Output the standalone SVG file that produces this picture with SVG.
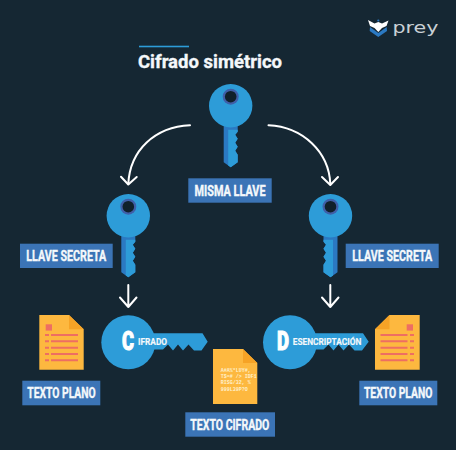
<svg xmlns="http://www.w3.org/2000/svg" width="456" height="450" viewBox="0 0 456 450">
<style>
.lb{fill:#3b74b6}
.t{font-family:Roboto,"Liberation Sans",sans-serif;font-weight:700;fill:#f4f8fb;stroke:#f4f8fb;stroke-width:.35;text-anchor:middle}
.s{font-size:13.800px}
.b{font-size:25.500px;font-weight:900;stroke-width:1;fill:#fff;stroke:#fff}
.m{font-size:9.500px;stroke-width:.15}
.k{fill:#2d9cd8}
.d{fill:#2b79c2}
.r{fill:#3f5fa8}
.h{fill:#10202b}
.y{fill:#fdb83f}
.f{fill:#f6a326}
.l{stroke:#ee6e62;stroke-width:1.900;fill:none}
.p{fill:#ee6e62}
.a{fill:none;stroke:#fff;stroke-width:2;stroke-linecap:round;stroke-linejoin:round}
.c{font-family:"Liberation Mono",monospace;font-size:5px;font-weight:700;fill:#fff0cc}
</style>
<defs>
<g id="key">
<path class="d" d="M-7 20H7V26L4.500 29 7 33 4.500 37 7 41 4.500 45 7 49V56.500L0 61.500-7 56.500Z"/>
<path class="k" d="M-2.500 24H7V26L4.500 29 7 33 4.500 37 7 41 4.500 45 7 49V56.500L0 61.500-2.500 59.700Z"/>
<circle class="k" cx="0" cy="0" r="21.700"/>
<circle class="r" cx="0" cy="-9" r="8"/>
<circle class="h" cx="0" cy="-9" r="5.800"/>
</g>
</defs>
<rect width="456" height="450" fill="#152733"/>
<g id="logo">
<path fill="#2b79c2" d="M370 27 378.300 33 386.700 27 387 31 378.300 37 369.700 31Z"/>
<path fill="#fff" d="M368 20 374.500 23.500 378.300 22 382 23.500 388.500 20.500 386.500 26 382 28 378.300 32 374.500 28 370 26Z"/>
<circle cx="378.300" cy="20.500" r="1.100" fill="#2b79c2"/>
<text x="392.500" y="33.300" font-family="'DejaVu Sans',sans-serif" font-size="15" fill="#c9d0d5" textLength="46" lengthAdjust="spacingAndGlyphs">prey</text>
</g>
<g id="title">
<rect x="139" y="45.700" width="50" height="1.600" fill="#2d9cd8"/>
<text x="210" y="68" class="t" font-size="18.500" textLength="144" lengthAdjust="spacingAndGlyphs">Cifrado simétrico</text>
</g>
<g id="connectors">
<path class="a" d="M190 125.300C155 127 130 150 128.300 184"/>
<path class="a" d="M121 176.700 128.300 184.500 136.700 177"/>
<path class="a" d="M268.500 125.300C303 127 329 152 330.300 184"/>
<path class="a" d="M322 177 330.300 185 338 177"/>
<path class="a" d="M128.300 285V307M120 297.500 128.300 307 136.500 297.500"/>
<path class="a" d="M330.300 285V307M322 297.500 330.300 307 338.500 297.500"/>
</g>
<g id="key-top">
<use href="#key" x="230.700" y="105.700"/>
</g>
<g id="node-misma">
<rect class="lb" x="188.300" y="178.300" width="83.400" height="24.400"/>
<text class="t s" x="230" y="196" textLength="71" lengthAdjust="spacingAndGlyphs">MISMA LLAVE</text>
</g>
<g id="key-left">
<use href="#key" x="128.300" y="215.700"/>
</g>
<g id="node-secreta-left">
<rect class="lb" x="20" y="243.700" width="92.700" height="24.300"/>
<text class="t s" x="66.300" y="261.300" textLength="80" lengthAdjust="spacingAndGlyphs">LLAVE SECRETA</text>
</g>
<g id="key-right">
<use href="#key" transform="translate(330.500 215.700) scale(-1 1)"/>
</g>
<g id="node-secreta-right">
<rect class="lb" x="345.700" y="243.700" width="93" height="24.300"/>
<text class="t s" x="392.300" y="261.300" textLength="80" lengthAdjust="spacingAndGlyphs">LLAVE SECRETA</text>
</g>
<g id="node-cifrado">
<circle class="k" cx="128.300" cy="342.300" r="27"/>
<path class="k" d="M150 333.300H202.500L207.700 341.700 201.500 350.500H194L188.500 344.500 183 350.500 178 344.500 173 350.500 168 344.500 163 349.500H150Z"/>
<text class="t b" x="128" y="350.300" textLength="12" lengthAdjust="spacingAndGlyphs">C</text>
<text class="t m" x="152.500" y="345.300" textLength="29" lengthAdjust="spacingAndGlyphs">IFRADO</text>
</g>
<g id="node-desencriptacion">
<circle class="k" cx="290" cy="342.300" r="27"/>
<path class="k" d="M310 333.300H363L368.700 341.700 362 350.500H354.500L349 344.500 343.500 350.500 338.500 344.500 333.500 350.500 328.500 344.500 323.500 349.500H310Z"/>
<text class="t b" x="283" y="350.300" textLength="12" lengthAdjust="spacingAndGlyphs">D</text>
<text class="t m" x="327" y="345.300" textLength="68.500" lengthAdjust="spacingAndGlyphs">ESENCRIPTACIÓN</text>
</g>
<g id="doc-left">
<path class="y" d="M39.300 315H69L83.700 329.300V369.700H39.300Z"/>
<path class="f" d="M69 315 83.700 329.300H69Z"/>
<rect class="p" x="45.700" y="324.300" width="6.300" height="6.300"/>
<path class="l" d="M51 335H78M51 341.300H78M51 347.700H78M51 354H78M51 360.300H78M45 335H49M45 341.300H49M45 347.700H49M45 354H49M45 360.300H49"/>
</g>
<g id="node-plano-left">
<rect class="lb" x="22.300" y="380.700" width="78" height="24.600"/>
<text class="t s" x="61.500" y="398.300" textLength="68.500" lengthAdjust="spacingAndGlyphs">TEXTO PLANO</text>
</g>
<g id="doc-cipher">
<path class="y" d="M213 349H243L257.300 363V404H213Z"/>
<path class="f" d="M243 349 257.300 363H243Z"/>
<text class="c"><tspan x="220.700" y="372">A#A%*LUY#,</tspan><tspan x="220.700" y="378">T$=# /> IDF1</tspan><tspan x="220.700" y="384">RISG/32, %</tspan><tspan x="220.700" y="390.500">999L39P?O</tspan></text>
</g>
<g id="node-cipher">
<rect class="lb" x="185.300" y="412.300" width="89.700" height="24.400"/>
<text class="t s" x="229.800" y="430" textLength="79" lengthAdjust="spacingAndGlyphs">TEXTO CIFRADO</text>
</g>
<g id="doc-right">
<path class="y" d="M389.500 315H419.700V369.700H375V329.300Z"/>
<path class="f" d="M389.500 315V329.300H375Z"/>
<rect class="p" x="406.700" y="324.300" width="6.300" height="6.300"/>
<path class="l" d="M380.500 335H407.500M380.500 341.300H407.500M380.500 347.700H407.500M380.500 354H407.500M380.500 360.300H407.500M410 335H414M410 341.300H414M410 347.700H414M410 354H414M410 360.300H414"/>
</g>
<g id="node-plano-right">
<rect class="lb" x="359.300" y="380.700" width="78" height="24.600"/>
<text class="t s" x="398.200" y="398.300" textLength="68.500" lengthAdjust="spacingAndGlyphs">TEXTO PLANO</text>
</g>
</svg>
